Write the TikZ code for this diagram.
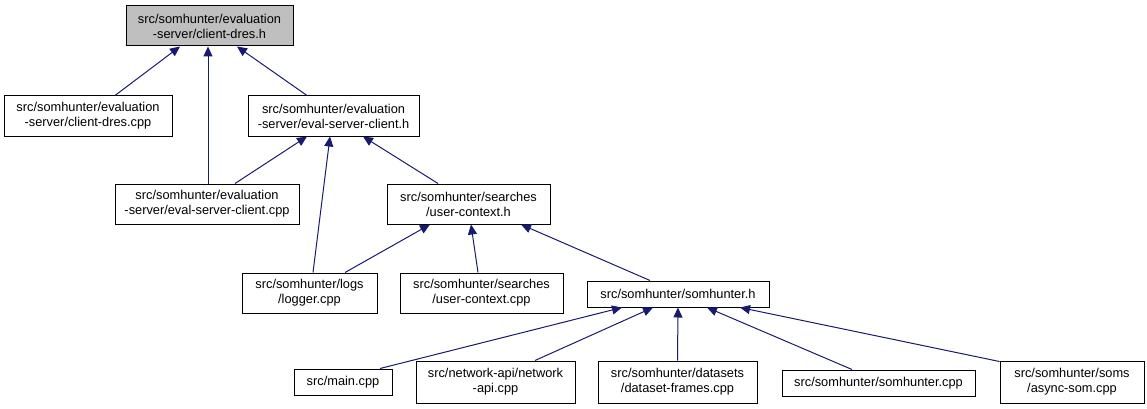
\documentclass[tikz,border=0pt]{standalone}
\usepackage{fontspec}
\setmainfont{Liberation Sans}
\usepackage{tikz}
\usetikzlibrary{arrows.meta, calc}
\definecolor{dxnavy}{HTML}{191970}
\definecolor{dxgray}{HTML}{BFBFBF}

\begin{document}
\begin{tikzpicture}[
  x=1pt, y=-1pt,
  file/.style={rectangle, draw=black, line width=1pt, fill=#1, inner sep=0pt,
    align=center, font=\fontsize{12.8}{15}\selectfont},
  file/.default=white,
  dep/.style={draw=dxnavy, line width=1pt, -{Triangle[length=10pt, width=9pt]}},
]
  \useasboundingbox (0,0) rectangle (1147,409);
  \node[file=dxgray, minimum width=167pt, minimum height=40pt] (cdresh) at (209.5,26)
    {src/somhunter/evaluation\\-server/client-dres.h};
  \node[file, minimum width=168pt, minimum height=40pt] (cdrescpp) at (88,116)
    {src/somhunter/evaluation\\-server/client-dres.cpp};
  \node[file, minimum width=171pt, minimum height=40pt] (evalh) at (333.5,116)
    {src/somhunter/evaluation\\-server/eval-server-client.h};
  \node[file, minimum width=184pt, minimum height=40pt] (evalcpp) at (207,204)
    {src/somhunter/evaluation\\-server/eval-server-client.cpp};
  \node[file, minimum width=163pt, minimum height=40pt] (uctxh) at (468.5,204)
    {src/somhunter/searches\\/user-context.h};
  \node[file, minimum width=135pt, minimum height=40pt] (logger) at (309.5,293)
    {src/somhunter/logs\\/logger.cpp};
  \node[file, minimum width=163pt, minimum height=40pt] (uctxcpp) at (481.5,293)
    {src/somhunter/searches\\/user-context.cpp};
  \node[file, minimum width=182pt, minimum height=26pt] (somh) at (678,294)
    {src/somhunter/somhunter.h};
  \node[file, minimum width=98pt, minimum height=26pt] (maincpp) at (343,382)
    {src/main.cpp};
  \node[file, minimum width=159pt, minimum height=42pt] (netapi) at (495.5,382)
    {src/network-api/network\\-api.cpp};
  \node[file, minimum width=159pt, minimum height=42pt] (dsframes) at (677.5,382)
    {src/somhunter/datasets\\/dataset-frames.cpp};
  \node[file, minimum width=193pt, minimum height=26pt] (somcpp) at (878.5,383)
    {src/somhunter/somhunter.cpp};
  \node[file, minimum width=144pt, minimum height=42pt] (asyncsom) at (1072,382)
    {src/somhunter/soms\\/async-som.cpp};
  \draw[dep] ([xshift=27pt]cdrescpp.north) -- ([xshift=-29.5pt]cdresh.south);
  \draw[dep] ([xshift=1pt]evalcpp.north) -- ([xshift=-1.5pt]cdresh.south);
  \draw[dep] ([xshift=-26.5pt]evalh.north) -- ([xshift=27.5pt]cdresh.south);
  \draw[dep] ([xshift=28pt]evalcpp.north) -- ([xshift=-26.5pt]evalh.south);
  \draw[dep] ([xshift=3.5pt]logger.north) -- ([xshift=-3.5pt]evalh.south);
  \draw[dep] ([xshift=-30.5pt]uctxh.north) -- ([xshift=29.5pt]evalh.south);
  \draw[dep] ([xshift=35.5pt]logger.north) -- ([xshift=-38.5pt]uctxh.south);
  \draw[dep] ([xshift=-3.5pt]uctxcpp.north) -- ([xshift=2.5pt]uctxh.south);
  \draw[dep] ([xshift=-28pt]somh.north) -- ([xshift=52.5pt]uctxh.south);
  \draw[dep] ([xshift=37pt]maincpp.north) -- ([xshift=-56pt]somh.south);
  \draw[dep] ([xshift=39.5pt]netapi.north) -- ([xshift=-25pt]somh.south);
  \draw[dep] (dsframes.north) -- (somh.south);
  \draw[dep] ([xshift=-26.5pt]somcpp.north) -- ([xshift=29pt]somh.south);
  \draw[dep] ([yshift=-1pt]asyncsom.north west) -- ([xshift=62pt]somh.south);
\end{tikzpicture}
\end{document}
